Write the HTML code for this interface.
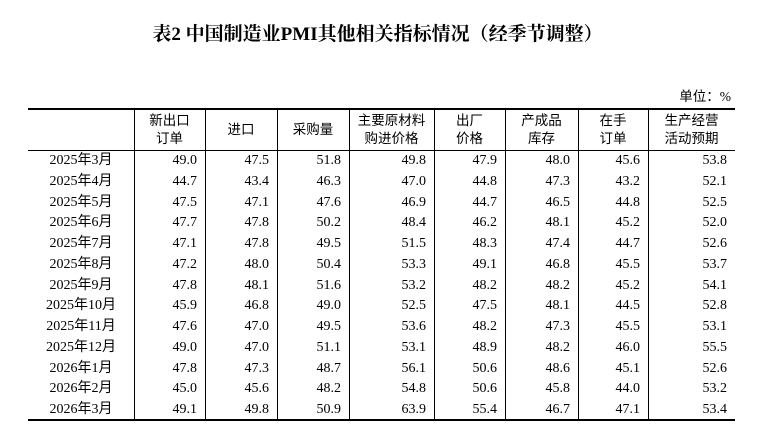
<!DOCTYPE html>
<html><head><meta charset="utf-8"><style>
html,body{margin:0;padding:0;background:#fff;}
body{width:761px;height:439px;position:relative;overflow:hidden;font-family:"Liberation Serif","Noto Sans CJK SC",serif;color:#000;}
.title{position:absolute;left:0;width:755px;top:23px;text-align:center;font-size:19px;font-weight:bold;line-height:24px;font-family:"Liberation Serif","Noto Serif CJK SC",serif;white-space:nowrap;}
.unit{position:absolute;right:30px;top:88px;font-size:13.5px;line-height:18px;white-space:nowrap;}
.hl{position:absolute;left:28px;width:707px;background:#000;}
.vl{position:absolute;width:1px;background:#000;top:110px;height:309px;}
.hdr{position:absolute;top:111px;height:38px;display:flex;left:28px;}
.hdr div{text-align:center;font-size:13.5px;line-height:18px;display:flex;align-items:center;justify-content:center;height:37px;font-family:"Liberation Sans","Noto Sans CJK SC",sans-serif;}
.rows{position:absolute;left:28px;top:151px;}
.r{display:flex;height:20.77px;line-height:20.77px;font-size:14px;}
.r div{text-align:right;padding-right:8px;box-sizing:border-box;white-space:nowrap;}
.r div:first-child{text-align:center;padding-right:0;}
</style></head><body>
<div class="title">表2 中国制造业PMI其他相关指标情况（经季节调整）</div>
<div class="unit">单位：%</div>
<div class="hl" style="top:108px;height:2px"></div>
<div class="hl" style="top:150px;height:1px"></div>
<div class="hl" style="top:419px;height:2px"></div>
<div class="vl" style="left:134px"></div>
<div class="vl" style="left:205px"></div>
<div class="vl" style="left:277px"></div>
<div class="vl" style="left:349px"></div>
<div class="vl" style="left:434px"></div>
<div class="vl" style="left:505px"></div>
<div class="vl" style="left:578px"></div>
<div class="vl" style="left:648px"></div>
<div class="hdr">
<div style="width:106px"></div>
<div style="width:71px">新出口<br>订单</div>
<div style="width:72px">进口</div>
<div style="width:72px">采购量</div>
<div style="width:85px">主要原材料<br>购进价格</div>
<div style="width:71px">出厂<br>价格</div>
<div style="width:73px">产成品<br>库存</div>
<div style="width:70px">在手<br>订单</div>
<div style="width:87px">生产经营<br>活动预期</div>
</div>
<div class="rows">
<div class="r"><div style="width:106px">2025年3月</div><div style="width:71px">49.0</div><div style="width:72px">47.5</div><div style="width:72px">51.8</div><div style="width:85px">49.8</div><div style="width:71px">47.9</div><div style="width:73px">48.0</div><div style="width:70px">45.6</div><div style="width:87px">53.8</div></div>
<div class="r"><div style="width:106px">2025年4月</div><div style="width:71px">44.7</div><div style="width:72px">43.4</div><div style="width:72px">46.3</div><div style="width:85px">47.0</div><div style="width:71px">44.8</div><div style="width:73px">47.3</div><div style="width:70px">43.2</div><div style="width:87px">52.1</div></div>
<div class="r"><div style="width:106px">2025年5月</div><div style="width:71px">47.5</div><div style="width:72px">47.1</div><div style="width:72px">47.6</div><div style="width:85px">46.9</div><div style="width:71px">44.7</div><div style="width:73px">46.5</div><div style="width:70px">44.8</div><div style="width:87px">52.5</div></div>
<div class="r"><div style="width:106px">2025年6月</div><div style="width:71px">47.7</div><div style="width:72px">47.8</div><div style="width:72px">50.2</div><div style="width:85px">48.4</div><div style="width:71px">46.2</div><div style="width:73px">48.1</div><div style="width:70px">45.2</div><div style="width:87px">52.0</div></div>
<div class="r"><div style="width:106px">2025年7月</div><div style="width:71px">47.1</div><div style="width:72px">47.8</div><div style="width:72px">49.5</div><div style="width:85px">51.5</div><div style="width:71px">48.3</div><div style="width:73px">47.4</div><div style="width:70px">44.7</div><div style="width:87px">52.6</div></div>
<div class="r"><div style="width:106px">2025年8月</div><div style="width:71px">47.2</div><div style="width:72px">48.0</div><div style="width:72px">50.4</div><div style="width:85px">53.3</div><div style="width:71px">49.1</div><div style="width:73px">46.8</div><div style="width:70px">45.5</div><div style="width:87px">53.7</div></div>
<div class="r"><div style="width:106px">2025年9月</div><div style="width:71px">47.8</div><div style="width:72px">48.1</div><div style="width:72px">51.6</div><div style="width:85px">53.2</div><div style="width:71px">48.2</div><div style="width:73px">48.2</div><div style="width:70px">45.2</div><div style="width:87px">54.1</div></div>
<div class="r"><div style="width:106px">2025年10月</div><div style="width:71px">45.9</div><div style="width:72px">46.8</div><div style="width:72px">49.0</div><div style="width:85px">52.5</div><div style="width:71px">47.5</div><div style="width:73px">48.1</div><div style="width:70px">44.5</div><div style="width:87px">52.8</div></div>
<div class="r"><div style="width:106px">2025年11月</div><div style="width:71px">47.6</div><div style="width:72px">47.0</div><div style="width:72px">49.5</div><div style="width:85px">53.6</div><div style="width:71px">48.2</div><div style="width:73px">47.3</div><div style="width:70px">45.5</div><div style="width:87px">53.1</div></div>
<div class="r"><div style="width:106px">2025年12月</div><div style="width:71px">49.0</div><div style="width:72px">47.0</div><div style="width:72px">51.1</div><div style="width:85px">53.1</div><div style="width:71px">48.9</div><div style="width:73px">48.2</div><div style="width:70px">46.0</div><div style="width:87px">55.5</div></div>
<div class="r"><div style="width:106px">2026年1月</div><div style="width:71px">47.8</div><div style="width:72px">47.3</div><div style="width:72px">48.7</div><div style="width:85px">56.1</div><div style="width:71px">50.6</div><div style="width:73px">48.6</div><div style="width:70px">45.1</div><div style="width:87px">52.6</div></div>
<div class="r"><div style="width:106px">2026年2月</div><div style="width:71px">45.0</div><div style="width:72px">45.6</div><div style="width:72px">48.2</div><div style="width:85px">54.8</div><div style="width:71px">50.6</div><div style="width:73px">45.8</div><div style="width:70px">44.0</div><div style="width:87px">53.2</div></div>
<div class="r"><div style="width:106px">2026年3月</div><div style="width:71px">49.1</div><div style="width:72px">49.8</div><div style="width:72px">50.9</div><div style="width:85px">63.9</div><div style="width:71px">55.4</div><div style="width:73px">46.7</div><div style="width:70px">47.1</div><div style="width:87px">53.4</div></div>
</div>
</body></html>
